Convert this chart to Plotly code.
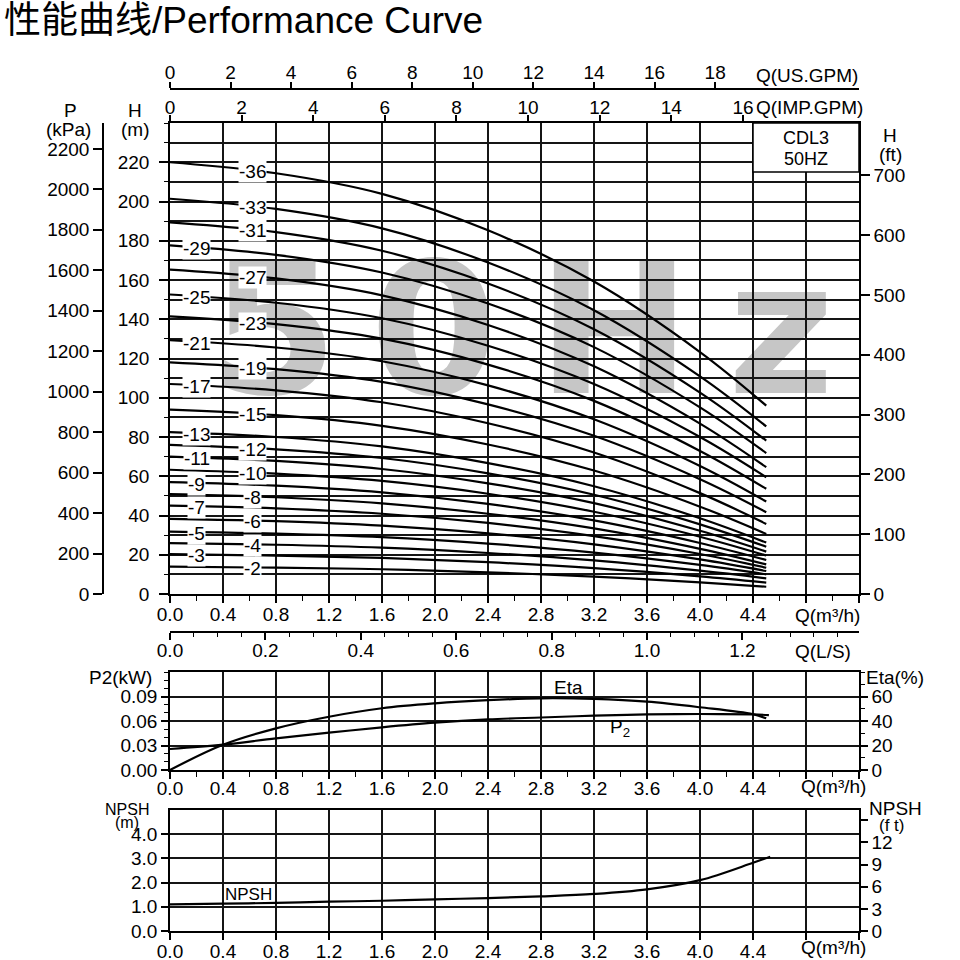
import numpy as np
import plotly.graph_objects as go

# ---- values ----
q_pts = [0.0, 0.8, 1.6, 2.4, 3.2, 4.0, 4.5]          # m3/h

h36 = [220.0, 214.4, 203.9, 185.3, 159.2, 123.3, 96.0]
h33 = [201.4, 196.2, 186.3, 168.9, 144.6, 110.9, 85.4]
h31 = [189.4, 184.4, 174.9, 158.2, 134.9, 102.6, 78.1]
h29 = [177.6, 172.8, 163.8, 148.0, 125.8, 95.1, 71.8]
h27 = [165.3, 160.8, 152.2, 137.1, 116.0, 86.8, 64.6]
h25 = [152.6, 148.4, 140.5, 126.5, 107.0, 80.0, 59.5]
h23 = [141.5, 137.5, 130.1, 116.9, 98.4, 72.9, 53.6]
h21 = [129.3, 125.6, 118.6, 106.3, 89.0, 65.2, 47.1]
h19 = [118.0, 114.6, 108.1, 96.6, 80.6, 58.5, 41.7]
h17 = [107.0, 103.8, 97.7, 87.0, 72.1, 51.4, 35.7]
h15 = [93.9, 91.1, 85.7, 76.2, 62.9, 44.5, 30.6]
h13 = [82.5, 80.0, 75.2, 66.7, 54.9, 38.6, 26.2]
h12 = [76.0, 73.7, 69.3, 61.5, 50.6, 35.5, 24.1]
h11 = [70.0, 67.8, 63.7, 56.4, 46.3, 32.2, 21.6]
h10 = [63.3, 61.3, 57.6, 51.1, 41.9, 29.2, 19.6]
h9 = [57.0, 55.2, 51.8, 45.9, 37.5, 26.0, 17.3]
h8 = [50.9, 49.3, 46.2, 40.9, 33.4, 23.0, 15.1]
h7 = [45.0, 43.6, 40.9, 36.2, 29.5, 20.4, 13.4]
h6 = [38.3, 37.1, 34.8, 30.9, 25.3, 17.6, 11.7]
h5 = [31.8, 30.8, 29.0, 25.7, 21.1, 14.8, 10.0]
h4 = [25.9, 25.1, 23.6, 20.9, 17.1, 11.9, 8.0]
h3 = [20.3, 19.6, 18.4, 16.2, 13.2, 9.0, 5.8]
h2 = [13.9, 13.4, 12.6, 11.0, 8.9, 5.9, 3.7]

stages = [36, 33, 31, 29, 27, 25, 23, 21, 19, 17, 15, 13, 12, 11, 10, 9, 8, 7, 6, 5, 4, 3, 2]
heads = [h36, h33, h31, h29, h27, h25, h23, h21, h19, h17, h15, h13, h12, h11, h10,
         h9, h8, h7, h6, h5, h4, h3, h2]
labels_left = [29, 25, 21, 17, 13, 11, 9, 7, 5, 3]   # labels sitting nearer the axis

q_eff = [0.0, 0.4, 0.8, 1.2, 1.6, 2.0, 2.4, 2.8, 3.2, 3.6, 4.0, 4.4, 4.5]
eta = [0.0, 20.6, 34.0, 43.5, 50.4, 54.4, 57.0, 58.5, 58.0, 55.8, 51.2, 45.5, 42.2]
q_p2 = [0.0, 0.4, 0.8, 1.2, 1.6, 2.0, 2.4, 2.8, 3.2, 3.6, 4.0, 4.4, 4.52]
p2 = [0.0257, 0.031, 0.0388, 0.0457, 0.0523, 0.058, 0.062, 0.0643, 0.0665, 0.068, 0.0686, 0.068, 0.0673]

q_npsh = [0.0, 0.4, 0.8, 1.2, 1.6, 2.0, 2.4, 2.8, 3.2, 3.6, 4.0, 4.4, 4.53]
npsh = [1.10, 1.13, 1.16, 1.21, 1.25, 1.31, 1.36, 1.43, 1.53, 1.72, 2.10, 2.82, 3.07]

q_ticks = [0.0, 0.4, 0.8, 1.2, 1.6, 2.0, 2.4, 2.8, 3.2, 3.6, 4.0, 4.4, 4.8, 5.2]
q_ticktext = ['0.0', '0.4', '0.8', '1.2', '1.6', '2.0', '2.4', '2.8', '3.2', '3.6', '4.0', '4.4', '', '']
h_ticks = [0, 20, 40, 60, 80, 100, 120, 140, 160, 180, 200, 220]
ft_ticks = [0, 100, 200, 300, 400, 500, 600, 700]
kpa_ticks = [0, 200, 400, 600, 800, 1000, 1200, 1400, 1600, 1800, 2000, 2200]
imp_ticks = [0, 2, 4, 6, 8, 10, 12, 14, 16]
us_ticks = [0, 2, 4, 6, 8, 10, 12, 14, 16, 18]
ls_ticks = [0.0, 0.2, 0.4, 0.6, 0.8, 1.0, 1.2]
p2_ticks = [0.0, 0.03, 0.06, 0.09]
eta_ticks = [0, 20, 40, 60]
npsh_ticks = [0, 1, 2, 3, 4]
npsh_ft_ticks = [0, 3, 6, 9, 12, 15]
npsh_ft_text = ['0', '3', '6', '9', '12', '']

FONT = "Liberation Sans, Arial, Helvetica, sans-serif"
INK = "black"


def px(x):
    return x / 960


def py(y):
    return 1 - y / 960


def qx(x):  # pixel -> m3/h on the main panel
    return (x - 170) / 132.5


def hy(y):  # pixel -> m on the main panel
    return (594 - y) / 1.9625


X_DOM = [px(170), px(859)]
GRID = dict(showgrid=True, gridcolor="#151515", gridwidth=1.5)


def axis(**kw):
    d = dict(showline=True, linecolor=INK, linewidth=1.5, ticks="outside", tickcolor=INK,
             tickwidth=1.5, ticklen=7, tickfont=dict(family=FONT, size=19, color=INK),
             showgrid=False, zeroline=False, fixedrange=True, automargin=False)
    d.update(kw)
    return d


def minor(dt, length=4, grid=False):
    m = dict(tickmode="linear", tick0=0, dtick=dt, ticks="outside", ticklen=length,
             tickcolor=INK, tickwidth=1.2)
    if grid:
        m.update(showgrid=True, gridcolor="#151515", gridwidth=1.5)
    return m


fig = go.Figure()

# pump curves
for n, h in zip(stages, heads):
    fig.add_trace(go.Scatter(x=q_pts, y=h, mode="lines", hoverinfo="skip",
                             line=dict(color=INK, width=2.2, shape="spline", smoothing=1.0)))

# efficiency / power
fig.add_trace(go.Scatter(x=q_eff, y=eta, xaxis="x5", yaxis="y5", mode="lines", hoverinfo="skip",
                         line=dict(color=INK, width=2.2, shape="spline")))
fig.add_trace(go.Scatter(x=q_p2, y=p2, xaxis="x5", yaxis="y4", mode="lines", hoverinfo="skip",
                         line=dict(color=INK, width=2.2, shape="spline")))
# npsh
fig.add_trace(go.Scatter(x=q_npsh, y=npsh, xaxis="x6", yaxis="y6", mode="lines", hoverinfo="skip",
                         line=dict(color=INK, width=2.2, shape="spline")))

# empty traces so every secondary scale gets drawn
for xa, ya in [("x2", "y"), ("x3", "y"), ("x4", "y"), ("x", "y2"), ("x", "y3"), ("x6", "y7")]:
    fig.add_trace(go.Scatter(x=[None], y=[None], xaxis=xa, yaxis=ya, mode="lines",
                             hoverinfo="skip", showlegend=False))


def note(text, x, y, size=19, **kw):
    d = dict(text=text, x=px(x), y=py(y), xref="paper", yref="paper", showarrow=False,
             font=dict(family=FONT, size=size, color=INK), xanchor="center", yanchor="middle")
    d.update(kw)
    return d


ann = [
    note("性能曲线/Performance Curve", 2, 20, xanchor="left",
         font=dict(family="Liberation Sans, Noto Sans CJK SC, sans-serif", size=37, color=INK)),
    note("P", 70, 111), note("(kPa)", 68, 129),
    note("H", 135, 111), note("(m)", 135, 129),
    note("Q(US.GPM)", 807, 75), note("Q(IMP.GPM)", 809, 107),
    note("CDL3", 806, 138, size=18), note("50HZ", 806, 159, size=18),
    note("H", 890, 135), note("(ft)", 890, 154),
    note("Q(m³/h)", 827, 615), note("Q(L/S)", 823, 651),
    note("P2(kW)", 120, 677), note("Eta(%)", 895, 677),
    note("Eta", 568, 687), note("P<sub>2</sub>", 620, 728),
    note("Q(m³/h)", 833, 786),
    note("NPSH", 127, 809, size=16), note("(m)", 127, 822, size=16),
    note("NPSH", 895, 808), note("(f t)", 892, 825, size=17),
    note("NPSH", 248, 894, size=17),
    note("Q(m³/h)", 833, 947),
]

# stage labels sit on their own curve
for n, h in zip(stages, heads):
    q = 0.2 if n in labels_left else 0.62
    ann.append(dict(text=f"-{n}", x=q, y=float(np.interp(q, q_pts, h)), xref="x", yref="y",
                    yshift=-1, showarrow=False, bgcolor="white", borderpad=0,
                    font=dict(family=FONT, size=19, color=INK)))

shapes = []
# faint 50Hz watermark under the grid
for ch, cx in [("5", 274), ("0", 434), ("H", 614), ("z", 781)]:
    shapes.append(dict(type="rect", xref="x", yref="y", x0=qx(cx - 80), x1=qx(cx + 80),
                       y0=hy(316 + 95), y1=hy(316 - 95), line=dict(width=0),
                       fillcolor="rgba(0,0,0,0)", layer="below",
                       label=dict(text=ch, textposition="middle center",
                                  font=dict(family="DejaVu Sans", size=184, color="#c6c6c6",
                                            weight="bold"))))
# model box
shapes.append(dict(type="rect", xref="x", yref="y", x0=4.4, x1=5.2, y0=hy(172), y1=240,
                   fillcolor="white", line=dict(color=INK, width=1.5), layer="above"))

fig.update_layout(
    width=960, height=960, margin=dict(l=0, r=0, t=0, b=0, autoexpand=False),
    paper_bgcolor="white", plot_bgcolor="rgba(0,0,0,0)", showlegend=False,
    annotations=ann, shapes=shapes,
    xaxis=axis(domain=X_DOM, anchor="y", range=[0, 5.2], tickvals=q_ticks, ticktext=q_ticktext,
               minor=minor(0.2, 5), ticklabelstandoff=-5, **GRID),
    yaxis=axis(domain=[py(594), py(123)], anchor="x", range=[0, 240], tickvals=h_ticks,
               ticklen=9, ticklabelstandoff=6, minor=minor(10, 4, grid=True), **GRID),
    yaxis2=axis(overlaying="y", side="right", anchor="x", range=[0, 240 * 3.281],
                tickvals=ft_ticks, ticklen=9),
    yaxis3=axis(overlaying="y", side="left", anchor="free", position=px(103),
                range=[0, 240 * 9.7], tickvals=kpa_ticks, ticklen=9),
    xaxis2=axis(overlaying="x", side="top", anchor="y", range=[0, 5.2 * 3.70],
                tickvals=imp_ticks, ticklen=6, ticklabelstandoff=-6),
    xaxis3=axis(overlaying="x", side="top", anchor="free", position=py(89),
                range=[0, 5.2 * 4.375], tickvals=us_ticks, ticklen=6, ticklabelstandoff=-4),
    xaxis4=axis(overlaying="x", side="bottom", anchor="free", position=py(632),
                range=[0, 5.2 / 3.6], tickvals=ls_ticks, tickformat=".1f",
                minor=minor(0.05, 4), ticklabelstandoff=-6),
    xaxis5=axis(domain=X_DOM, anchor="y4", range=[0, 5.2], tickvals=q_ticks, ticktext=q_ticktext,
                mirror=True, minor=minor(0.2, 5), ticklabelstandoff=-7, **GRID),
    yaxis4=axis(domain=[py(770), py(672)], anchor="x5", range=[0, 0.12], tickvals=p2_ticks,
                tickformat=".2f", minor=minor(0.01, 4), **GRID),
    yaxis5=axis(overlaying="y4", side="right", anchor="x5", range=[0, 80], tickvals=eta_ticks,
                minor=minor(10, 4)),
    xaxis6=axis(domain=X_DOM, anchor="y6", range=[0, 5.2], tickvals=q_ticks, ticktext=q_ticktext,
                mirror=True, ticklabelstandoff=-5, **GRID),
    yaxis6=axis(domain=[py(931), py(810)], anchor="x6", range=[0, 5], tickvals=npsh_ticks,
                tickformat=".1f", **GRID),
    yaxis7=axis(overlaying="y6", side="right", anchor="x6", range=[0, 5 * 3.281],
                tickvals=npsh_ft_ticks, ticktext=npsh_ft_text),
)

# the page's default body margin would push the fixed-size figure 8px off
fig.write_html("out.html", config={"displayModeBar": False},
               post_script="document.body.style.margin='0';")
